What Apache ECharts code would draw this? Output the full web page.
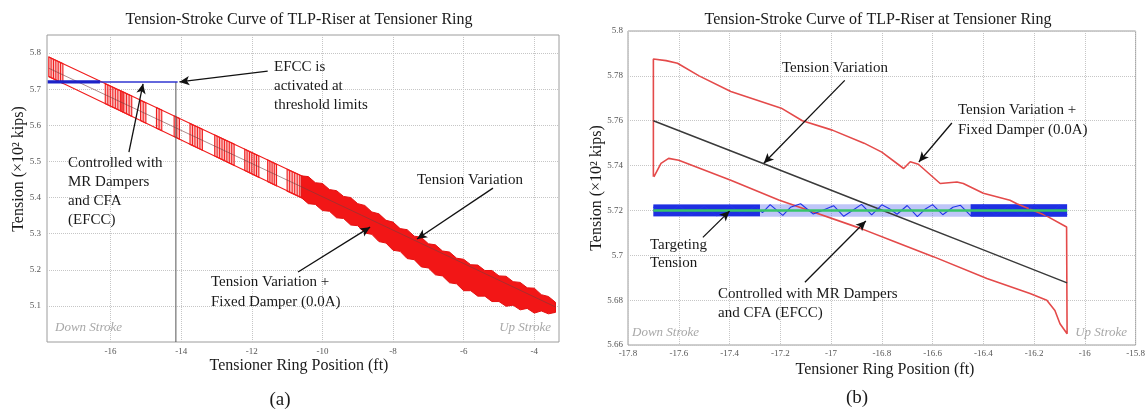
<!DOCTYPE html>
<html>
<head>
<meta charset="utf-8">
<title>Tension-Stroke Curve of TLP-Riser at Tensioner Ring</title>
<script src="https://cdn.jsdelivr.net/npm/echarts@6/dist/echarts.min.js"></script>
<style>
  html, body { margin: 0; padding: 0; background: #fff; }
  #chart { width: 1148px; height: 411px; }
</style>
</head>
<body>
<div id="chart"></div>
<script>
// ---------------- Panel (a): full stroke range ----------------
const aXTicks = [-16, -14, -12, -10, -8, -6, -4];
const aYTicks = [5.1, 5.2, 5.3, 5.4, 5.5, 5.6, 5.7, 5.8];

// Upper / lower branches of the fixed-damper loops (ft, ×10² kips)
const aUpperBranch = [[-17.75, 5.789], [-14.0, 5.617], [-10.6, 5.460]];
const aLowerBranch = [[-17.75, 5.735], [-14.0, 5.559], [-10.6, 5.400]];
// Passive tension variation (no damper)
const aTensionVariation = [[-17.75, 5.758], [-10.6, 5.430], [-3.4, 5.097]];

// Loop blocks: [x0, x1, top@x0, bottom@x0, top@x1, bottom@x1]
const aLoopBlocks = [
  [-17.75, -17.35, 5.789, 5.735, 5.771, 5.716],
  [-16.15, -15.65, 5.715, 5.660, 5.692, 5.637],
  [-15.70, -15.40, 5.695, 5.639, 5.681, 5.625],
  [-15.15, -15.00, 5.669, 5.613, 5.662, 5.606],
  [-14.70, -14.55, 5.649, 5.592, 5.642, 5.585],
  [-14.20, -14.05, 5.626, 5.569, 5.619, 5.562],
  [-13.75, -13.40, 5.605, 5.547, 5.589, 5.531],
  [-13.05, -12.50, 5.573, 5.515, 5.548, 5.489],
  [-12.20, -11.80, 5.534, 5.475, 5.515, 5.456],
  [-11.55, -11.30, 5.504, 5.444, 5.492, 5.432],
  [-11.00, -10.50, 5.478, 5.418, 5.456, 5.395]
];

// Dense cycling band of the fixed damper towards up stroke
const aBandX = [-10.6, -10.4, -10.2, -10.0, -9.8, -9.6, -9.4, -9.2, -9.0, -8.8, -8.6, -8.4, -8.2,
  -8.0, -7.8, -7.6, -7.4, -7.2, -7.0, -6.8, -6.6, -6.4, -6.2, -6.0, -5.8, -5.6, -5.4, -5.2,
  -5.0, -4.8, -4.6, -4.4, -4.2, -4.0, -3.8, -3.6, -3.4];
const aBandTop = [5.460, 5.458, 5.441, 5.439, 5.422, 5.419, 5.403, 5.400, 5.383, 5.378, 5.360,
  5.355, 5.337, 5.332, 5.314, 5.311, 5.293, 5.290, 5.272, 5.269, 5.252, 5.249, 5.232, 5.229,
  5.214, 5.213, 5.198, 5.198, 5.183, 5.182, 5.167, 5.165, 5.150, 5.149, 5.131, 5.126, 5.110];
const aBandBottom = [5.400, 5.383, 5.381, 5.364, 5.362, 5.344, 5.342, 5.324, 5.322, 5.302, 5.298,
  5.278, 5.274, 5.254, 5.251, 5.231, 5.228, 5.208, 5.205, 5.186, 5.183, 5.164, 5.161, 5.142,
  5.142, 5.127, 5.127, 5.112, 5.112, 5.099, 5.102, 5.089, 5.093, 5.080, 5.086, 5.078, 5.082];

// EFCC-controlled tension and activation threshold
const aControlledDense = [[-17.78, 5.72], [-16.3, 5.72]];
const aControlledTail = [[-16.3, 5.72], [-14.1, 5.72]];
const aThreshold = [[-14.15, 5.72], [-14.15, 5.0]];

// Callout arrows: [tail, head]
const aArrows = [
  [[-11.55, 5.750], [-14.05, 5.720]],
  [[-15.48, 5.526], [-15.08, 5.715]],
  [[-5.17, 5.426], [-7.32, 5.285]],
  [[-10.69, 5.194], [-8.65, 5.318]]
];

// ---------------- Panel (b): single stroke, zoomed ----------------
const bFixedDamper = [
  [-17.70, 5.735], [-17.70, 5.7875], [-17.65, 5.7868], [-17.605, 5.7856], [-17.52, 5.780],
  [-17.395, 5.773], [-17.196, 5.7656], [-17.113, 5.760], [-16.995, 5.7558], [-16.87, 5.750],
  [-16.80, 5.746], [-16.714, 5.7387], [-16.688, 5.7417], [-16.656, 5.7406], [-16.57, 5.732],
  [-16.504, 5.7327], [-16.479, 5.732], [-16.40, 5.7277], [-16.295, 5.7245], [-16.268, 5.723],
  [-16.157, 5.7179], [-16.072, 5.7126], [-16.07, 5.665], [-16.098, 5.6695], [-16.118, 5.6754],
  [-16.15, 5.680], [-16.216, 5.683], [-16.386, 5.6897], [-16.597, 5.6994], [-16.754, 5.7063],
  [-16.884, 5.712], [-17.206, 5.7246], [-17.395, 5.7335], [-17.60, 5.7424], [-17.64, 5.7432],
  [-17.67, 5.741], [-17.698, 5.735]
];
const bTensionVariation = [[-17.70, 5.760], [-17.265, 5.7408], [-16.864, 5.723], [-16.40, 5.7024], [-16.07, 5.6877]];
const bTargetTension = [[-17.70, 5.72], [-16.07, 5.72]];
// Controlled tension: envelope [x0, x1, low, high] and traced signal
const bControlledEnvelope = [[-17.70, -16.07, 5.7172, 5.7228]];
const bControlledDense = [[-17.70, -17.28, 5.7174, 5.7226], [-16.45, -16.07, 5.7172, 5.7228]];
const bControlledTrace = [
  [-17.70, 5.7215], [-17.65, 5.7178], [-17.60, 5.7222], [-17.55, 5.7180], [-17.50, 5.7220],
  [-17.45, 5.7176], [-17.40, 5.7224], [-17.35, 5.7182], [-17.30, 5.7219], [-17.27, 5.7190],
  [-17.24, 5.7226], [-17.19, 5.7178], [-17.16, 5.7214], [-17.12, 5.7230], [-17.07, 5.7184],
  [-17.03, 5.7202], [-16.99, 5.7221], [-16.95, 5.7174], [-16.92, 5.7196], [-16.88, 5.7227],
  [-16.84, 5.7180], [-16.80, 5.7225], [-16.77, 5.7208], [-16.74, 5.7183], [-16.70, 5.7222],
  [-16.66, 5.7172], [-16.63, 5.7205], [-16.60, 5.7226], [-16.56, 5.7181], [-16.52, 5.7214],
  [-16.49, 5.7223], [-16.45, 5.7177], [-16.40, 5.7224], [-16.35, 5.7179], [-16.30, 5.7222],
  [-16.25, 5.7178], [-16.20, 5.7225], [-16.15, 5.7176], [-16.10, 5.7223], [-16.07, 5.7180]
];
const bArrows = [
  [[-16.946, 5.778], [-17.265, 5.741]],
  [[-16.524, 5.759], [-16.654, 5.7416]],
  [[-17.505, 5.708], [-17.40, 5.7197]],
  [[-17.103, 5.688], [-16.863, 5.7153]]
];

// ---------------- styling ----------------
const SERIF = "'Liberation Serif', 'Times New Roman', serif";
const RED = '#f01c1c';
const tickLabel = { fontFamily: SERIF, fontSize: 9, color: '#555' };
const gridLine = { show: true, lineStyle: { color: '#c6c6c6', type: 'dotted', width: 1 } };
const trimNum = v => String(+(+v).toFixed(2));

function lineSeries(name, data, gi, color, width, extra) {
  return Object.assign({
    name, type: 'line', data, xAxisIndex: gi, yAxisIndex: gi,
    symbol: 'none', showSymbol: false, silent: true, clip: true,
    lineStyle: { color, width }
  }, extra || {});
}

function arrowLines(list) {
  return {
    silent: true, symbol: ['none', 'arrow'], symbolSize: [7, 10],
    lineStyle: { color: '#111', width: 1.3, type: 'solid' },
    label: { show: false },
    data: list.map(([t, h]) => [{ coord: t }, { coord: h }])
  };
}

// Parallelogram loop blocks with vertical stroke hatching
function renderLoopBlock(params, api) {
  const x0 = api.value(0), x1 = api.value(1);
  const tl = api.coord([x0, api.value(2)]);
  const bl = api.coord([x0, api.value(3)]);
  const tr = api.coord([x1, api.value(4)]);
  const br = api.coord([x1, api.value(5)]);
  const children = [{
    type: 'polygon', shape: { points: [tl, tr, br, bl] },
    style: { fill: 'rgba(240,30,30,0.28)', stroke: RED, lineWidth: 1.1 }
  }];
  const n = Math.max(2, Math.round((tr[0] - tl[0]) / 2.4));
  for (let k = 1; k < n; k++) {
    const t = k / n;
    children.push({
      type: 'line',
      shape: { x1: tl[0] + (tr[0] - tl[0]) * t, y1: tl[1] + (tr[1] - tl[1]) * t,
               x2: bl[0] + (br[0] - bl[0]) * t, y2: bl[1] + (br[1] - bl[1]) * t },
      style: { stroke: RED, lineWidth: 1 }
    });
  }
  return { type: 'group', children };
}

// Filled band between the top and bottom edges
function renderBand(params, api) {
  if (params.dataIndex !== 0) return null;
  const pts = [];
  for (let i = 0; i < aBandX.length; i++) pts.push(api.coord([aBandX[i], aBandTop[i]]));
  for (let i = aBandX.length - 1; i >= 0; i--) pts.push(api.coord([aBandX[i], aBandBottom[i]]));
  return { type: 'polygon', shape: { points: pts }, style: { fill: '#f21616', stroke: '#e41010', lineWidth: 1 } };
}

function rectRenderer(fill) {
  return function (params, api) {
    const a = api.coord([api.value(0), api.value(3)]);
    const b = api.coord([api.value(1), api.value(2)]);
    return { type: 'rect', shape: { x: a[0], y: a[1], width: b[0] - a[0], height: b[1] - a[1] }, style: { fill } };
  };
}

// ---------------- text layout ----------------
const FONT = size => `${size}px ${SERIF}`;
function txt(x, y, text, opt) {
  opt = opt || {};
  return {
    type: 'text', x, y, rotation: opt.rotation || 0, silent: true, z: 100,
    style: {
      text, x: 0, y: 0,
      font: (opt.italic ? 'italic ' : '') + FONT(opt.size || 15),
      fill: opt.color || '#1a1a1a',
      textAlign: opt.align || 'left',
      textVerticalAlign: opt.valign || 'middle',
      lineHeight: opt.lh || 19
    }
  };
}
const strokeNote = { italic: true, size: 13, color: '#a8a8a8' };
const graphics = [
  // panel (a)
  txt(299, 20, 'Tension-Stroke Curve of TLP-Riser at Tensioner Ring', { align: 'center', size: 16 }),
  txt(274, 57.5, 'EFCC is\nactivated at\nthreshold limits', { valign: 'top', lh: 19 }),
  txt(68, 153.5, 'Controlled with\nMR Dampers\nand CFA\n(EFCC)', { valign: 'top', lh: 19 }),
  txt(417, 180, 'Tension Variation'),
  txt(211, 272, 'Tension Variation +\nFixed Damper (0.0A)', { valign: 'top', lh: 20 }),
  txt(55, 328, 'Down Stroke', strokeNote),
  txt(551, 328, 'Up Stroke', Object.assign({ align: 'right' }, strokeNote)),
  txt(299, 366, 'Tensioner Ring Position (ft)', { align: 'center', size: 16 }),
  txt(19, 169, 'Tension (×10² kips)', { align: 'center', rotation: Math.PI / 2, size: 16 }),
  txt(280, 400, '(a)', { align: 'center', size: 19 }),
  // panel (b)
  txt(878, 20, 'Tension-Stroke Curve of TLP-Riser at Tensioner Ring', { align: 'center', size: 16 }),
  txt(782, 68, 'Tension Variation'),
  txt(958, 100, 'Tension Variation +\nFixed Damper (0.0A)', { valign: 'top', lh: 20 }),
  txt(650, 236, 'Targeting\nTension', { valign: 'top', lh: 18 }),
  txt(718, 284.5, 'Controlled with MR Dampers\nand CFA (EFCC)', { valign: 'top', lh: 19 }),
  txt(632, 333, 'Down Stroke', strokeNote),
  txt(1127, 333, 'Up Stroke', Object.assign({ align: 'right' }, strokeNote)),
  txt(885, 370, 'Tensioner Ring Position (ft)', { align: 'center', size: 16 }),
  txt(597, 188, 'Tension (×10² kips)', { align: 'center', rotation: Math.PI / 2, size: 16 }),
  txt(857, 398, '(b)', { align: 'center', size: 19 })
];

// ---------------- chart ----------------
const chart = echarts.init(document.getElementById('chart'), null, { renderer: 'canvas' });
chart.setOption({
  animation: false,
  backgroundColor: '#ffffff',
  grid: [
    { left: 47, top: 35, width: 512, height: 307, show: true, borderColor: '#9c9c9c', borderWidth: 1 },
    { left: 628, top: 31, width: 508, height: 314, show: true, borderColor: '#9c9c9c', borderWidth: 1 }
  ],
  xAxis: [
    { type: 'value', gridIndex: 0, min: -17.8, max: -3.3, splitNumber: 7,
      axisLine: { show: false }, axisTick: { show: false, customValues: aXTicks },
      axisLabel: Object.assign({ customValues: aXTicks, margin: 5 }, tickLabel), splitLine: gridLine },
    { type: 'value', gridIndex: 1, min: -17.8, max: -15.8, interval: 0.2,
      axisLine: { show: false }, axisTick: { show: false },
      axisLabel: Object.assign({ formatter: trimNum, margin: 4 }, tickLabel), splitLine: gridLine }
  ],
  yAxis: [
    { type: 'value', gridIndex: 0, min: 5.0, max: 5.85, interval: 0.1,
      axisLine: { show: false }, axisTick: { show: false, customValues: aYTicks },
      axisLabel: Object.assign({ customValues: aYTicks, margin: 6, formatter: trimNum }, tickLabel), splitLine: gridLine },
    { type: 'value', gridIndex: 1, min: 5.66, max: 5.8, interval: 0.02,
      axisLine: { show: false }, axisTick: { show: false },
      axisLabel: Object.assign({ formatter: trimNum, margin: 5 }, tickLabel), splitLine: gridLine }
  ],
  series: [
    // ---- panel (a)
    lineSeries('Upper branch', aUpperBranch, 0, RED, 1.1),
    lineSeries('Lower branch', aLowerBranch, 0, RED, 1.1),
    { name: 'Loop blocks', type: 'custom', xAxisIndex: 0, yAxisIndex: 0, silent: true, clip: true,
      data: aLoopBlocks, renderItem: renderLoopBlock },
    { name: 'Cycling band', type: 'custom', xAxisIndex: 0, yAxisIndex: 0, silent: true, clip: true,
      data: aBandX.map((x, i) => [x, aBandTop[i], aBandBottom[i]]), renderItem: renderBand },
    lineSeries('Tension variation', aTensionVariation, 0, 'rgba(120,60,60,0.75)', 0.8,
      { markLine: arrowLines(aArrows) }),
    lineSeries('Threshold', aThreshold, 0, '#555', 1),
    lineSeries('Controlled', aControlledDense, 0, '#1c22c8', 3.2),
    lineSeries('Controlled tail', aControlledTail, 0, '#3036d0', 1.6),
    // ---- panel (b)
    lineSeries('Fixed damper', bFixedDamper, 1, '#e44a4a', 1.6),
    lineSeries('Tension variation', bTensionVariation, 1, '#3a3a3a', 1.5),
    { name: 'Controlled envelope', type: 'custom', xAxisIndex: 1, yAxisIndex: 1, silent: true, clip: true,
      data: bControlledEnvelope, renderItem: rectRenderer('rgba(70,90,235,0.35)') },
    { name: 'Controlled dense', type: 'custom', xAxisIndex: 1, yAxisIndex: 1, silent: true, clip: true,
      data: bControlledDense, renderItem: rectRenderer('#1f2fe2') },
    lineSeries('Controlled', bControlledTrace, 1, '#2233e8', 1.1),
    lineSeries('Target tension', bTargetTension, 1, '#35c46a', 2.4, { markLine: arrowLines(bArrows) })
  ],
  graphic: graphics
});
</script>
</body>
</html>
